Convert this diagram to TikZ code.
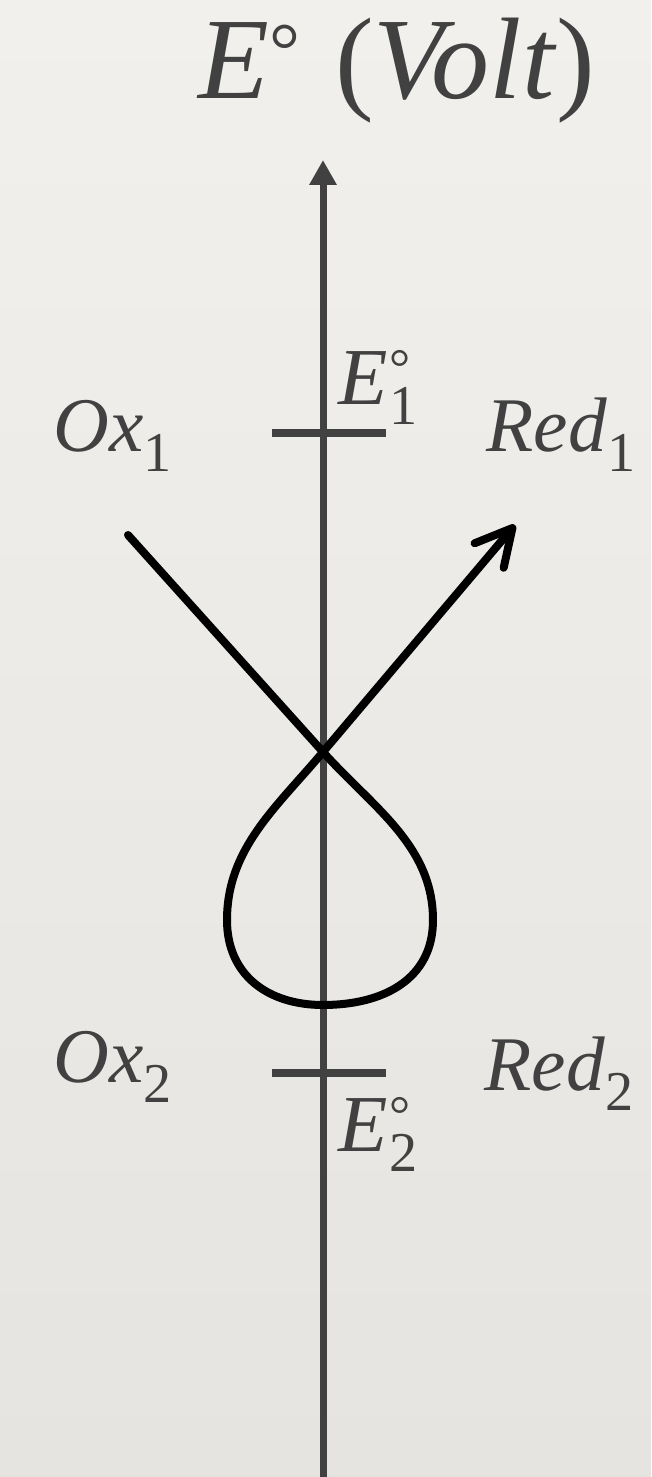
\documentclass[tikz,border=0pt]{standalone}
\usepackage{fontspec}
\setmainfont{Liberation Serif}
\usepackage{tikz}
\usetikzlibrary{arrows.meta,positioning,calc}
\usepackage{xcolor}
\definecolor{ink}{HTML}{414141}
\definecolor{papertop}{HTML}{F1F0EC}
\definecolor{paperbot}{HTML}{E6E4E0}
\newcommand{\lsub}[1]{\raisebox{-5.6pt}{\fontsize{16pt}{16pt}\selectfont #1}}
\newcommand{\degsub}[1]{\textit{E}\kern0.5pt\rlap{\raisebox{5.6pt}{\fontsize{15pt}{15pt}\selectfont °}}\lsub{#1}}
\tikzset{
  axis/.style={draw=ink, line width=0.07cm, -{Triangle[length=2.5mm,width=2.6mm]}},
  tick/.style={draw=ink, line width=0.08cm},
  curve/.style={draw=black, line width=0.08cm, line join=round, line cap=round},
  barb/.style={-{Straight Barb[round,length=3.6mm,width=3.8mm]}},
  lbl/.style={inner sep=0pt, anchor=base west, text=ink, font=\fontsize{22pt}{24pt}\selectfont},
  elbl/.style={inner sep=0pt, anchor=base west, text=ink, font=\fontsize{23pt}{25pt}\selectfont},
  title/.style={inner sep=0pt, anchor=base west, text=ink, font=\fontsize{33pt}{35pt}\selectfont}
}
\begin{document}
\begin{tikzpicture}
\useasboundingbox (0,0) rectangle (6.51,14.77);
\shade[top color=papertop, bottom color=paperbot] (0,0) rectangle (6.51,14.77);
% axis and ticks
\coordinate (axbot) at (3.23,0);
\coordinate (axtop) at (3.23,13.17);
\draw[axis] (axbot) -- (axtop);
\coordinate (t1l) at (2.72,10.44);
\coordinate (t1r) at (3.86,10.44);
\coordinate (t2l) at (2.72,4.04);
\coordinate (t2r) at (3.86,4.04);
\draw[tick] (t1l) -- (t1r);
\draw[tick] (t2l) -- (t2r);
% labels
\node[title] (ttl) at (1.98,13.78) {\textit{E}\raisebox{6.4pt}{\fontsize{22pt}{22pt}\selectfont °}\hspace{0.3em}(\textit{Volt})};
\node[elbl] (e1) at (3.38,10.72) {\degsub{1}};
\node[elbl] (e2) at (3.38,3.25) {\degsub{2}};
\node[lbl] (ox1) at (0.53,10.25) {\textit{Ox}\lsub{1}};
\node[lbl] (red1) at (4.86,10.25) {\textit{Red}\lsub{1}};
\node[lbl] (ox2) at (0.53,3.94) {\textit{Ox}\lsub{2}};
\node[lbl] (red2) at (4.84,3.86) {\textit{Red}\lsub{2}};
% loop
\coordinate (cstart) at (1.28,9.42);
\coordinate (cross) at (3.23,7.25);
\coordinate (lright) at (4.33,5.57);
\coordinate (lbot) at (3.23,4.72);
\coordinate (lleft) at (2.27,5.57);
\coordinate (ctip) at (5.15,9.52);
\draw[curve, barb] (cstart) -- (cross)
  to[out=-48, in=90, looseness=0.95] (lright)
  to[out=-90, in=0, looseness=1.1] (lbot)
  to[out=180, in=-90, looseness=1.1] (lleft)
  to[out=90, in=230, looseness=0.95] (cross) -- (ctip);
\end{tikzpicture}
\end{document}
